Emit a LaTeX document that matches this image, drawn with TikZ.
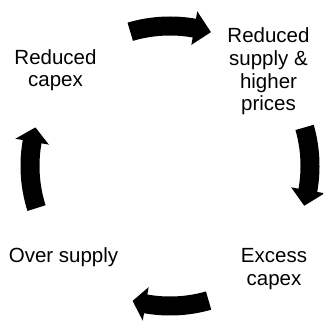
\documentclass[tikz,border=0pt]{standalone}
\usepackage{fontspec}
\setmainfont{Liberation Sans}
\newcommand\cycarrow[3]{% start angle, head base angle, tip angle
  \fill[black] (#1:149.5) arc[start angle=#1, end angle=#2, radius=149.5] -- (#2:157) -- (#3:140) -- (#2:123) -- (#2:130.5) arc[start angle=#2, end angle=#1, radius=130.5] -- cycle;}
\begin{document}
\begin{tikzpicture}[x=1pt,y=1pt,
  lbl/.style={align=center, font=\fontsize{20.5}{22.8}\selectfont, inner sep=0pt, anchor=base}]
\useasboundingbox (0,0) rectangle (323,323);
\clip (0,0) rectangle (323,323);
% anchor=base is the baseline of the last line
\node[lbl] (rcapex) at (55.5,236) {Reduced\\capex};
\node[lbl] (rsupply) at (268.5,212) {Reduced\\supply \&\\higher\\prices};
\node[lbl] (oversupply) at (63.5,60) {Over supply};
\node[lbl] (ecapex) at (274,37.5) {Excess\\capex};
\begin{scope}[shift={(170,157)}]
  \cycarrow{106.5}{80}{73}
  \cycarrow{16}{-10}{-16.5}
  \cycarrow{-74}{-100}{-105.5}
  \cycarrow{197.5}{170}{164}
\end{scope}
\end{tikzpicture}
\end{document}
